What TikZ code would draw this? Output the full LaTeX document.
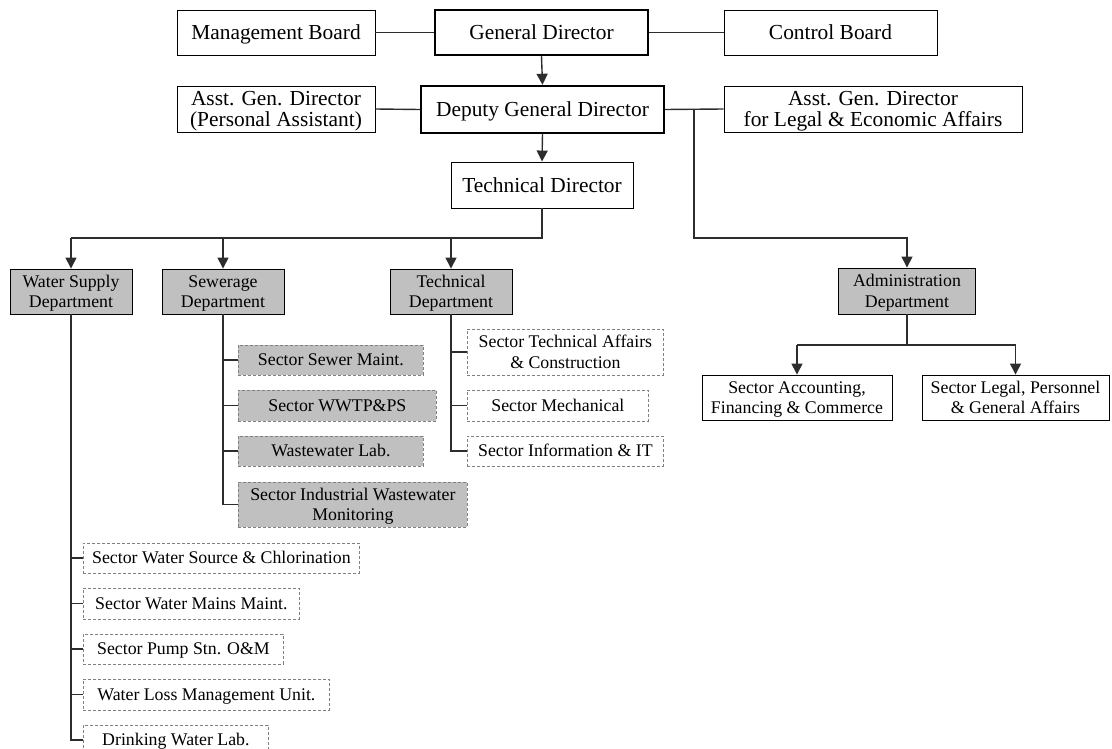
\documentclass[tikz,border=0pt]{standalone}
\usepackage{fontspec}
\setmainfont{Liberation Serif}
\usetikzlibrary{arrows.meta}
\definecolor{deptgray}{RGB}{192,192,192}
\definecolor{dashgray}{RGB}{128,128,128}
\definecolor{linegray}{RGB}{45,45,45}
\newcommand\BigT{\fontsize{21.4}{20.7}\selectfont}
\newcommand\SmT{\fontsize{17.8}{20.5}\selectfont}
\begin{document}
\begin{tikzpicture}[x=1pt,y=-1pt,
  wh/.style 2 args={minimum width=#1pt, minimum height=#2pt},
  box/.style={draw=black, line width=0.9pt, fill=white, inner sep=0pt, align=center, font=\BigT},
  thickbox/.style={box, line width=2.4pt},
  asbox/.style={box, font=\SmT},
  dept/.style={draw=black, line width=0.9pt, fill=deptgray, inner sep=0pt, align=center, font=\SmT},
  sbox/.style={draw=dashgray, dash pattern=on 3pt off 2pt, line width=0.8pt, fill=white, inner sep=0pt, align=center, font=\SmT},
  sgbox/.style={sbox, fill=deptgray},
  oneB/.style={text height=14.2pt, text depth=0pt},
  twoB/.style={text height=34.9pt, text depth=0pt},
  oneS/.style={text height=11.8pt, text depth=0pt},
  twoS/.style={text height=32.3pt, text depth=0pt},
  conn/.style={draw=linegray, line width=1.4pt},
  arr/.style={conn, -{Triangle[length=11pt,width=11pt]}}]
\useasboundingbox (0,0) rectangle (1112,749);
% top level
\node[box, oneB, wh={198}{45}] (mb) at (276,32.5) {Management Board};
\node[thickbox, oneB, wh={213}{45}] (gd) at (541.5,32.5) {General Director};
\node[box, oneB, wh={213}{45}] (cb) at (830.5,32.5) {Control Board};
\node[box, twoB, wh={198}{46}] (apa) at (276,109) {Asst. Gen. Director\\(Personal Assistant)};
\node[thickbox, oneB, wh={243}{47}] (dgd) at (542.5,109.5) {Deputy General Director};
\node[box, twoB, wh={298}{46}] (agl) at (873,109) {Asst. Gen. Director\\for Legal \& Economic Affairs};
\node[box, oneB, wh={182}{46}] (td) at (542,185) {Technical Director};
% departments
\node[dept, twoS, wh={122}{45}] (ws) at (71,291.5) {Water Supply\\Department};
\node[dept, twoS, wh={122}{45}] (sw) at (223,291.5) {Sewerage\\Department};
\node[dept, twoS, wh={122}{45}] (tdep) at (451,291.5) {Technical\\Department};
\node[dept, twoS, wh={137}{46}] (adm) at (907,291) {Administration\\Department};
% admin sectors
\node[asbox, twoS, wh={190}{45}] (sac) at (797,397.5) {Sector Accounting,\\Financing \& Commerce};
\node[asbox, twoS, wh={187}{45}] (slp) at (1015.5,397.5) {Sector Legal, Personnel\\\& General Affairs};
% sewerage sectors
\node[sgbox, oneS, wh={185}{30}, anchor=west] (s1) at (238,360) {Sector Sewer Maint.};
\node[sgbox, oneS, wh={198}{31}, anchor=west] (s2) at (238,405.5) {Sector WWTP\&PS};
\node[sgbox, oneS, wh={185}{30}, anchor=west] (s3) at (238,451) {Wastewater Lab.};
\node[sgbox, twoS, wh={229}{45}, anchor=west] (s4) at (238,504.5) {Sector Industrial Wastewater\\Monitoring};
% technical sectors
\node[sbox, twoS, wh={196}{46}, anchor=west] (t1) at (467,352) {Sector Technical Affairs\\\& Construction};
\node[sbox, oneS, wh={181}{31}, anchor=west] (t2) at (467,405.5) {Sector Mechanical};
\node[sbox, oneS, wh={196}{30}, anchor=west] (t3) at (467,451) {Sector Information \& IT};
% water supply sectors
\node[sbox, oneS, wh={276}{30}, anchor=west] (w1) at (83,558) {Sector Water Source \& Chlorination};
\node[sbox, oneS, wh={216}{31}, anchor=west] (w2) at (83,603.5) {Sector Water Mains Maint.};
\node[sbox, oneS, wh={200}{30}, anchor=west] (w3) at (83,649) {Sector Pump Stn. O\&M};
\node[sbox, oneS, wh={246}{31}, anchor=west] (w4) at (83,694.5) {Water Loss Management Unit.};
\node[sbox, oneS, wh={185}{30}, anchor=west] (w5) at (83,740) {Drinking Water Lab.};
% coordinates
\coordinate (bus) at (0,238);
\coordinate (j1) at (694,109.5);
\coordinate (j2) at (694,238);
\coordinate (abus) at (0,345);
% top connectors
\draw[conn] (mb.east) -- (gd.west);
\draw[conn] (gd.east) -- (cb.west);
\draw[arr] (gd.south) -- (dgd.north);
\draw[conn] (apa.east) -- (dgd.west);
\draw[conn] (dgd.east) -- (agl.west);
\draw[arr] (dgd.south) -- (td.north);
% technical director bus
\draw[conn] (td.south) -- (td.south |- bus) -- (ws.north |- bus);
\draw[arr] (ws.north |- bus) -- (ws.north);
\draw[arr] (sw.north |- bus) -- (sw.north);
\draw[arr] (tdep.north |- bus) -- (tdep.north);
% administration
\draw[arr] (j1) -- (j2) -| (adm.north);
\draw[conn] (adm.south) -- (adm.south |- abus);
\draw[conn] (sac.north |- abus) -- (slp.north |- abus);
\draw[arr] (sac.north |- abus) -- (sac.north);
\draw[arr] (slp.north |- abus) -- (slp.north);
% sewerage tree
\draw[conn] (sw.south) |- (s4.west);
\draw[conn] (sw.south |- s1.west) -- (s1.west);
\draw[conn] (sw.south |- s2.west) -- (s2.west);
\draw[conn] (sw.south |- s3.west) -- (s3.west);
% technical tree
\draw[conn] (tdep.south) |- (t3.west);
\draw[conn] (tdep.south |- t1.west) -- (t1.west);
\draw[conn] (tdep.south |- t2.west) -- (t2.west);
% water supply tree
\draw[conn] (ws.south) |- (w5.west);
\draw[conn] (ws.south |- w1.west) -- (w1.west);
\draw[conn] (ws.south |- w2.west) -- (w2.west);
\draw[conn] (ws.south |- w3.west) -- (w3.west);
\draw[conn] (ws.south |- w4.west) -- (w4.west);
\end{tikzpicture}
\end{document}
